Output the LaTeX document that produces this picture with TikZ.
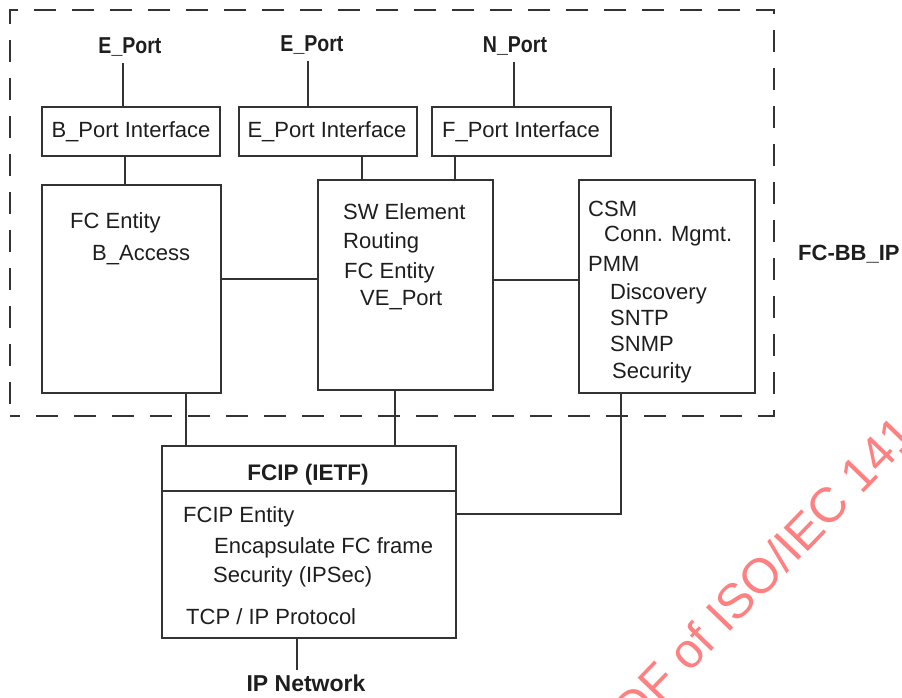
\documentclass[tikz,border=0pt]{standalone}
\usepackage{fontspec}
\setmainfont{Liberation Sans}
\newfontfamily\narrowsans[FakeStretch=0.85]{Liberation Sans}
\definecolor{lc}{HTML}{333333}
\definecolor{tc}{HTML}{1E1E1E}
\definecolor{wm}{RGB}{255,128,128}
\begin{document}
\begin{tikzpicture}[x=1pt,y=-1pt,
  line/.style={draw=lc, line width=1.1pt},
  heavy/.style={draw=lc, line width=2.3pt},
  box/.style={draw=lc, line width=1.2pt, rectangle, inner sep=0pt},
  txt/.style={font=\fontsize{22}{26}\selectfont, text=tc, inner sep=0pt, anchor=base west},
  btxt/.style={font=\bfseries\fontsize{22.5}{26}\selectfont, text=tc, inner sep=0pt, anchor=base},
  ptxt/.style={font=\narrowsans\bfseries\fontsize{23}{26}\selectfont, text=tc, inner sep=0pt, anchor=base, text depth=0pt, outer ysep=10pt}
]
\useasboundingbox (0,0) rectangle (902,697);

% dashed frame
\node[draw=lc, line width=1.2pt, dash pattern=on 22pt off 16pt, dash phase=12pt,
      minimum width=764pt, minimum height=406pt, inner sep=0pt] (frame) at (392,213) {};
\node[btxt, anchor=base west, font=\bfseries\fontsize{22}{26}\selectfont] (fcbb) at (798,260) {FC-BB\_IP};

% port labels
\node[ptxt] (ep1) at (130,53) {E\_Port};
\node[ptxt] (ep2) at (312,51) {E\_Port};
\node[ptxt] (np) at (515,52) {N\_Port};

% interface boxes
\node[box, minimum width=178pt, minimum height=49pt] (bpi) at (131,131.5) {};
\node[box, minimum width=178pt, minimum height=49pt] (epi) at (328,131.5) {};
\node[box, minimum width=179pt, minimum height=49pt] (fpi) at (521.5,131.5) {};
\node[txt, anchor=base] (bpit) at (131,137) {B\_Port Interface};
\node[txt, anchor=base] (epit) at (327,137) {E\_Port Interface};
\node[txt, anchor=base] (fpit) at (521,137) {F\_Port Interface};

% main boxes
\node[box, minimum width=179pt, minimum height=208pt] (fce) at (131.5,289) {};
\node[box, minimum width=175pt, minimum height=210pt] (sw) at (405.5,285) {};
\node[box, minimum width=176pt, minimum height=213pt] (csm) at (667,286.5) {};

\node[txt] (fce1) at (70,228) {FC Entity};
\node[txt] (fce2) at (92,260) {B\_Access};

\node[txt] (sw1) at (343,219) {SW Element};
\node[txt] (sw2) at (343,248) {Routing};
\node[txt] (sw3) at (344,278.5) {FC Entity};
\node[txt] (sw4) at (360,305) {VE\_Port};

\node[txt] (c1) at (588,216.5) {CSM};
\node[txt] (c2) at (604,241.5) {Conn. Mgmt.};
\node[txt] (c3) at (588,271) {PMM};
\node[txt] (c4) at (610,299) {Discovery};
\node[txt] (c5) at (610,325) {SNTP};
\node[txt] (c6) at (610,351) {SNMP};
\node[txt] (c7) at (612,378) {Security};

% FCIP
\node[box, minimum width=294pt, minimum height=45pt] (fciph) at (309,468.5) {};
\node[box, minimum width=294pt, minimum height=147pt] (fcipb) at (309,564.5) {};
\node[btxt] (fcipt) at (308,480) {FCIP (IETF)};
\node[txt] (f1) at (183,522) {FCIP Entity};
\node[txt] (f2) at (214,553.5) {Encapsulate FC frame};
\node[txt] (f3) at (213,582.5) {Security (IPSec)};
\node[txt] (f4) at (186,624) {TCP / IP Protocol};
\node[btxt, text depth=0pt, font=\bfseries\fontsize{23}{26}\selectfont] (ipn) at (306,691.5) {IP Network};

% connectors
\draw[line] (ep1.south -| 123,0) -- (bpi.north -| 123,0);
\draw[line] (ep2.south -| 308,0) -- (epi.north -| 308,0);
\draw[line] (np.south -| 514,0) -- (fpi.north -| 514,0);
\draw[line] (bpi.south -| 125,0) -- (fce.north -| 125,0);
\draw[line] (epi.south -| 362,0) -- (sw.north -| 362,0);
\draw[line] (fpi.south -| 455,0) -- (sw.north -| 455,0);
\draw[heavy] (fce.east |- 0,279) -- (sw.west |- 0,279);
\draw[heavy] (sw.east |- 0,280) -- (csm.west |- 0,280);
\draw[line] (fce.south -| 186,0) -- (fciph.north -| 186,0);
\draw[line] (sw.south -| 395,0) -- (fciph.north -| 395,0);
\draw[line] (csm.south -| 621,0) |- (fcipb.east |- 0,514);
\draw[heavy] (fcipb.south -| 297,0) -- ([yshift=5pt]ipn.north -| 297,0);

% watermark
\begin{scope}
\clip (0,0) rectangle (902,697);
\node[rotate=46, anchor=base west, inner sep=0pt, text=wm,
      font=\fontsize{49}{52}\selectfont] (wmark) at (612,754) {PDF of ISO/IEC 141};
\end{scope}
\end{tikzpicture}
\end{document}
